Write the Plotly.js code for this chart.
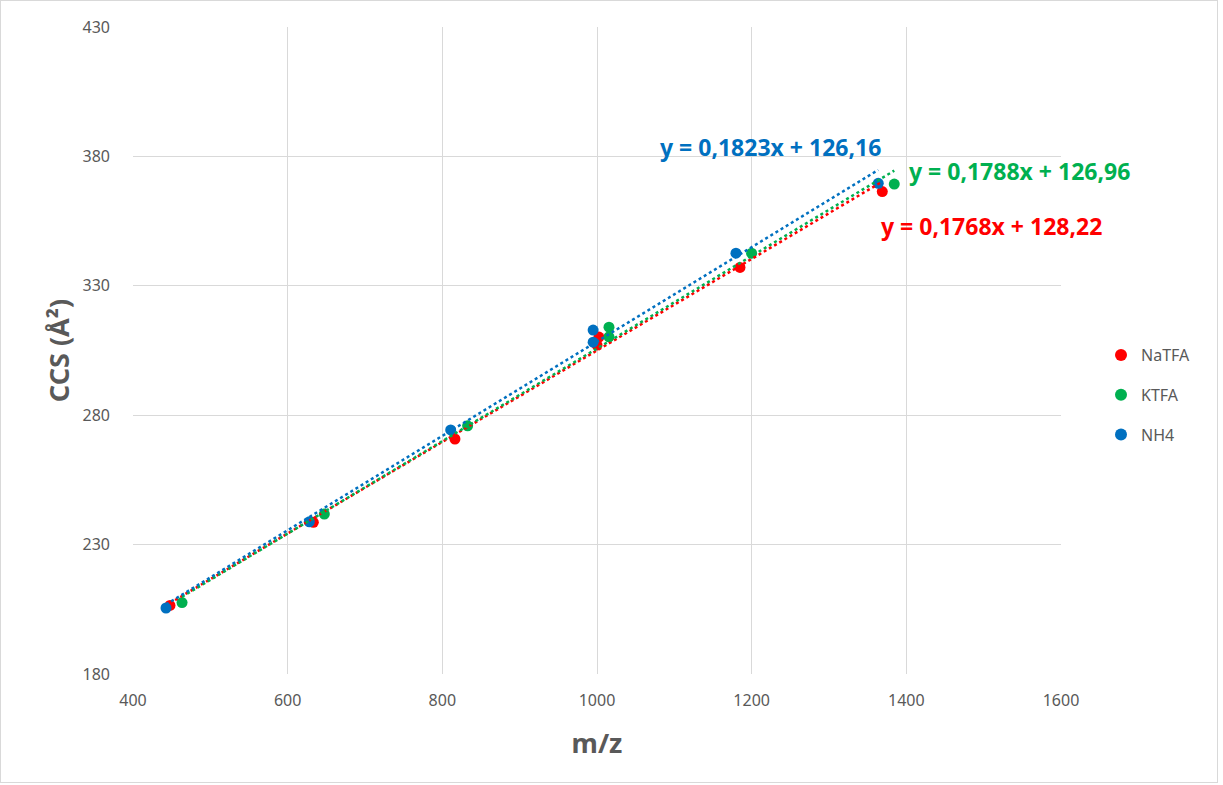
<!DOCTYPE html>
<html>
<head>
<meta charset="utf-8">
<script src="https://cdn.plot.ly/plotly-3.0.1.min.js"></script>
<style>
html,body{margin:0;padding:0;background:#fff;}
#chart{width:1223px;height:785px;}
#frame{position:absolute;left:0;top:0;width:1216px;height:781px;border:1px solid #d9d9d9;pointer-events:none;}
</style>
</head>
<body>
<div id="chart"></div>
<div id="frame"></div>
<script>
const seriesNames = ["NaTFA", "KTFA", "NH4"];
const seriesColors = ["#FF0000", "#00B050", "#0070C0"];
const naX = [447.8, 633.2, 816.3, 1002.5, 1000.0, 1184.9, 1368.9];
const naY = [206.5, 238.6, 270.8, 310.2, 307.1, 337.1, 366.4];
const kX = [463.4, 647.4, 832.7, 1015.5, 1015.5, 1199.9, 1384.4];
const kY = [207.6, 241.8, 275.9, 314.0, 310.3, 342.6, 369.3];
const nhX = [442.7, 628.0, 810.8, 995.0, 995.0, 1179.7, 1363.7];
const nhY = [205.5, 238.8, 274.3, 312.9, 308.2, 342.6, 369.6];
const slopes = [0.1768, 0.1788, 0.1823];
const intercepts = [128.22, 126.96, 126.16];
const eqLabels = ["y = 0,1768x + 128,22", "y = 0,1788x + 126,96", "y = 0,1823x + 126,16"];
const xTicks = [400, 600, 800, 1000, 1200, 1400, 1600];
const yTicks = [180, 230, 280, 330, 380, 430];

const xs = [naX, kX, nhX];
const ys = [naY, kY, nhY];
const font = "Noto Sans, Open Sans, sans-serif";
const traces = [];
for (let i = 0; i < 3; i++) {
  traces.push({
    x: xs[i], y: ys[i], type: "scatter", mode: "markers", name: seriesNames[i],
    legendgroup: "g" + i,
    marker: {color: seriesColors[i], size: 11}
  });
}
for (let i = 0; i < 3; i++) {
  const lo = Math.min(...xs[i]), hi = Math.max(...xs[i]);
  traces.push({
    x: [lo, hi], y: [slopes[i]*lo + intercepts[i], slopes[i]*hi + intercepts[i]],
    type: "scatter", mode: "lines", showlegend: false, hoverinfo: "skip",
    legendgroup: "g" + i,
    line: {color: seriesColors[i], width: 2.5, dash: "dot"}
  });
}
const annPos = [[991, 226], [1019, 171], [770, 147]];
const annotations = eqLabels.map((t, i) => ({
  text: "<b>" + t + "</b>", xref: "paper", yref: "paper",
  x: (annPos[i][0] - 133) / (1061 - 133), y: (674 - annPos[i][1]) / (674 - 27),
  xanchor: "center", yanchor: "middle", showarrow: false,
  font: {family: font, size: 23, color: seriesColors[i]}
}));
const layout = {
  width: 1223, height: 785,
  margin: {l: 133, r: 162, t: 27, b: 111},
  paper_bgcolor: "#fff", plot_bgcolor: "#fff",
  font: {family: font, color: "#595959", size: 16},
  xaxis: {
    range: [400, 1600], tickvals: xTicks, ticktext: xTicks.map(String),
    showgrid: true, gridcolor: "#d9d9d9", gridwidth: 1, zeroline: false,
    showline: false, ticks: "", ticklabelstandoff: 15,
    tickfont: {family: font, size: 16, color: "#595959"},
    title: {text: "<b>m/z</b>", font: {family: font, size: 27, color: "#595959"}, standoff: 24}
  },
  yaxis: {
    range: [180, 430], tickvals: yTicks, ticktext: yTicks.map(String),
    showgrid: true, gridcolor: "#d9d9d9", gridwidth: 1, zeroline: false,
    showline: false, ticks: "", ticklabelstandoff: 22,
    tickfont: {family: font, size: 16, color: "#595959"},
    title: {text: "<b>CCS (Å²)</b>", font: {family: font, size: 27, color: "#595959"}, standoff: 5}
  },
  legend: {
    x: (1101 - 133) / 928, y: (674 - 395) / 647, xanchor: "left", yanchor: "middle",
    font: {family: font, size: 16, color: "#595959"},
    itemsizing: "constant", tracegroupgap: 16, bgcolor: "rgba(0,0,0,0)"
  },
  annotations: annotations,
  showlegend: true
};
Plotly.newPlot("chart", traces, layout, {displayModeBar: false, staticPlot: true});
</script>
</body>
</html>
